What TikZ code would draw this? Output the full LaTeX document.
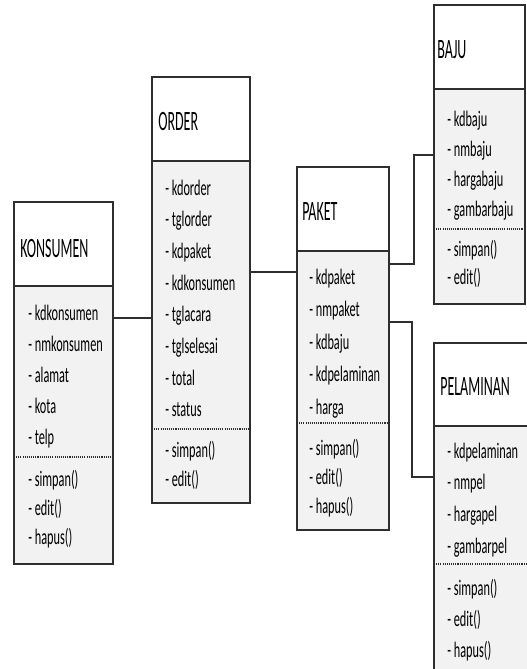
\documentclass[tikz,border=0pt]{standalone}
\usepackage{fontspec}
\setmainfont{Carlito}
\usepackage{graphicx}
\definecolor{linec}{HTML}{2E2E2E}
\definecolor{bodyc}{HTML}{F2F2F2}
% tall, narrow lettering of the class boxes
\newcommand\rowtxt[1]{\scalebox{0.97}[1.75]{\fontsize{9.5}{11}\selectfont #1}}
\newcommand\titletxt[1]{\scalebox{1}[2.0]{\fontsize{10.5}{12}\selectfont #1}}
% class box: name, left x, top y, width, header height, body height
\newcommand\classbox[6]{%
  \node[boxpart, fill=white, minimum width=#4*0.75pt, minimum height=#5*0.75pt] (#1-h) at (#2,#3) {};
  \node[boxpart, fill=bodyc, minimum width=#4*0.75pt, minimum height=#6*0.75pt] (#1-b) at (#1-h.south west) {};
}
\begin{document}
\begin{tikzpicture}[x=0.75pt,y=-0.75pt,
  boxpart/.style={draw=linec, line width=0.9pt, inner sep=0pt, outer sep=0pt, anchor=north west},
  txt/.style={inner sep=0pt, anchor=base west, text=black},
  sepline/.style={draw=linec, line width=0.9pt, dash pattern=on 0.8pt off 0.8pt},
  link/.style={draw=linec, line width=0.9pt}]
\useasboundingbox (0,0) rectangle (526,669);

% KONSUMEN
\classbox{kon}{14}{202}{99}{84}{278}
\node[txt] (kon-t) at (20,257) {\titletxt{KONSUMEN}};
\foreach \t [count=\i from 0] in {kdkonsumen,nmkonsumen,alamat,kota,telp}
  \node[txt] (kon-a\i) at (28,320+31*\i) {\rowtxt{- \t}};
\draw[sepline] (kon-b.west |- 0,457) -- (kon-b.east |- 0,457);
\foreach \t [count=\i from 0] in {simpan(),edit(),hapus()}
  \node[txt] (kon-o\i) at (28,486+29*\i) {\rowtxt{- \t}};

% ORDER
\classbox{ord}{152}{77}{98}{84}{342}
\node[txt] (ord-t) at (158,130) {\titletxt{ORDER}};
\foreach \t [count=\i from 0] in {kdorder,tglorder,kdpaket,kdkonsumen,tglacara,tglselesai,total,status}
  \node[txt] (ord-a\i) at (165,195+31.7*\i) {\rowtxt{- \t}};
\draw[sepline] (ord-b.west |- 0,429) -- (ord-b.east |- 0,429);
\foreach \t [count=\i from 0] in {simpan(),edit()}
  \node[txt] (ord-o\i) at (165,457+29*\i) {\rowtxt{- \t}};

% PAKET
\classbox{pak}{297}{167}{92}{84}{279}
\node[txt] (pak-t) at (302,220) {\titletxt{PAKET}};
\foreach \t [count=\i from 0] in {kdpaket,nmpaket,kdbaju,kdpelaminan,harga}
  \node[txt] (pak-a\i) at (309,284+32.5*\i) {\rowtxt{- \t}};
\draw[sepline] (pak-b.west |- 0,423) -- (pak-b.east |- 0,423);
\foreach \t [count=\i from 0] in {simpan(),edit(),hapus()}
  \node[txt] (pak-o\i) at (309,455+29*\i) {\rowtxt{- \t}};

% BAJU
\classbox{baj}{434}{5}{91}{84}{215}
\node[txt] (baj-t) at (437,58) {\titletxt{BAJU}};
\foreach \t [count=\i from 0] in {kdbaju,nmbaju,hargabaju,gambarbaju}
  \node[txt] (baj-a\i) at (447,126+30*\i) {\rowtxt{- \t}};
\draw[sepline] (baj-b.west |- 0,229) -- (baj-b.east |- 0,229);
\foreach \t [count=\i from 0] in {simpan(),edit()}
  \node[txt] (baj-o\i) at (447,256+28*\i) {\rowtxt{- \t}};

% PELAMINAN (runs past the right and bottom edges)
\classbox{pel}{434}{343}{100}{83}{260}
\node[txt] (pel-t) at (440,395) {\titletxt{PELAMINAN}};
\foreach \t [count=\i from 0] in {kdpelaminan,nmpel,hargapel,gambarpel}
  \node[txt] (pel-a\i) at (447,458+31.7*\i) {\rowtxt{- \t}};
\draw[sepline] (pel-b.west |- 0,564) -- (pel-b.east |- 0,564);
\foreach \t [count=\i from 0] in {simpan(),edit(),hapus()}
  \node[txt] (pel-o\i) at (447,595+31*\i) {\rowtxt{- \t}};

% associations
\coordinate (bendbaju) at (414,155);
\coordinate (bendpel) at (412,477);
\draw[link] (kon-b.east |- 0,318) -- (ord-b.west |- 0,318);
\draw[link] (ord-b.east |- 0,272) -- (pak-b.west |- 0,272);
\draw[link] (pak-b.east |- 0,264) -| (bendbaju) -- (baj-b.west |- bendbaju);
\draw[link] (pak-b.east |- 0,322) -| (bendpel) -- (pel-b.west |- bendpel);
\end{tikzpicture}
\end{document}
